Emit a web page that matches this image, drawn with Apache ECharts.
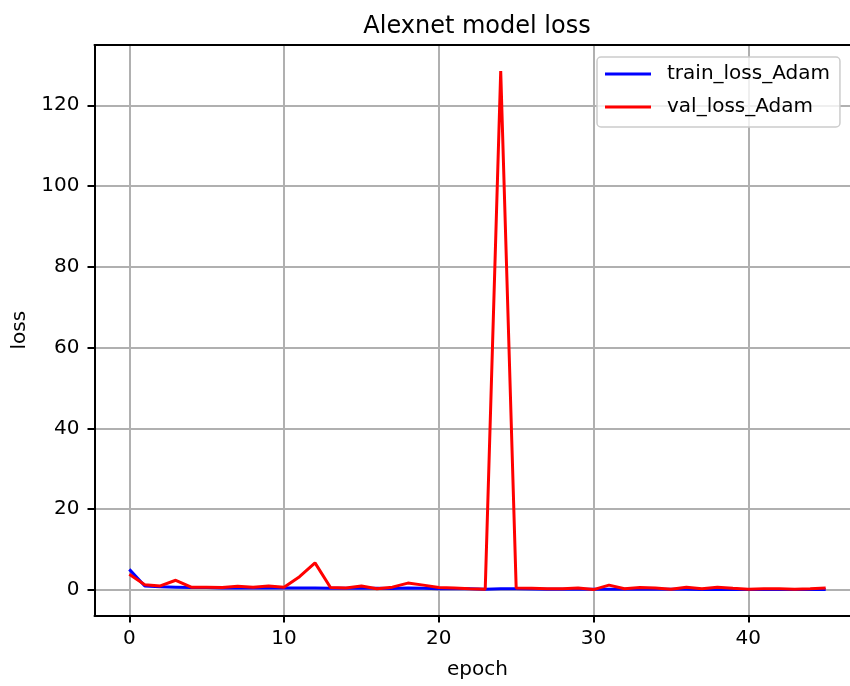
<!DOCTYPE html>
<html><head><meta charset="utf-8">
<script src="https://cdn.jsdelivr.net/npm/echarts@6/dist/echarts.min.js"></script>
<style>html,body{margin:0;padding:0;overflow:hidden;background:#fff;width:850px;height:686px}#c{width:862px;height:686px}</style>
</head><body><div id="c"></div>
<script>
const epochs = Array.from({length: 46}, (_, i) => i);
const trainLoss = [5.1,1.0,0.8,0.7,0.6,0.6,0.5,0.5,0.5,0.5,0.5,0.5,0.5,0.45,0.4,0.4,0.4,0.35,0.5,0.4,0.3,0.3,0.3,0.2,0.3,0.3,0.25,0.2,0.2,0.2,0.15,0.2,0.15,0.2,0.15,0.15,0.15,0.1,0.15,0.1,0.1,0.1,0.1,0.1,0.1,0.1];
const valLoss = [3.9,1.3,1.0,2.4,0.7,0.7,0.6,0.9,0.7,1.0,0.7,3.3,6.7,0.6,0.5,1.0,0.3,0.7,1.7,1.2,0.6,0.5,0.3,0.2,128.5,0.5,0.4,0.3,0.3,0.5,0.1,1.2,0.3,0.6,0.5,0.2,0.7,0.3,0.7,0.4,0.2,0.3,0.3,0.2,0.3,0.5];
const xTicks = [0,10,20,30,40];
const yTicks = [0,20,40,60,80,100,120];
const seriesNames = ['train_loss_Adam', 'val_loss_Adam'];

const font = 'DejaVu Sans';
const chart = echarts.init(document.getElementById('c'), null, {renderer: 'canvas'});
chart.setOption({
  animation: false,
  backgroundColor: '#fff',
  title: {text: 'Alexnet model loss', left: 472, top: 10, textAlign: 'center',
    textStyle: {fontFamily: font, fontSize: 24, fontWeight: 'normal', color: '#000'}},
  legend: {
    left: 597, top: 57, orient: 'vertical',
    data: seriesNames,
    icon: 'rect', itemWidth: 46, itemHeight: 3, itemGap: 9,
    textStyle: {fontFamily: font, fontSize: 20, lineHeight: 24, color: '#000', padding: [0,0,0,11]},
    borderColor: '#cccccc', borderWidth: 1.5, borderRadius: 4,
    padding: [5, 10, 8, 8], backgroundColor: 'rgba(255,255,255,0.8)'
  },
  grid: {left: 94.5, top: 45, width: 766, height: 570.5, containLabel: false},
  xAxis: [{
    type: 'value', min: -2.25, max: 47.25,
    name: 'epoch', nameLocation: 'middle', nameGap: 44,
    nameTextStyle: {fontFamily: font, fontSize: 20, color: '#000'},
    axisLine: {onZero: false, lineStyle: {color: '#000', width: 2}},
    axisTick: {show: true, customValues: xTicks, length: 7, lineStyle: {color: '#000', width: 2}},
    axisLabel: {customValues: xTicks, fontFamily: font, fontSize: 20, color: '#000', margin: 13},
    splitLine: {show: true, lineStyle: {color: '#b0b0b0', width: 2}}
  }, {
    type: 'value', min: -2.25, max: 47.25, position: 'top',
    axisLine: {show: true, onZero: false, lineStyle: {color: '#000', width: 2}},
    axisTick: {show: false}, axisLabel: {show: false}, splitLine: {show: false}
  }],
  yAxis: {
    type: 'value', min: -6.32, max: 134.92,
    name: 'loss', nameLocation: 'middle', nameGap: 65, nameRotate: 90,
    nameTextStyle: {fontFamily: font, fontSize: 20, color: '#000'},
    axisLine: {show: true, onZero: false, lineStyle: {color: '#000', width: 2}},
    axisTick: {show: true, customValues: yTicks, length: 7, lineStyle: {color: '#000', width: 2}},
    axisLabel: {customValues: yTicks, fontFamily: font, fontSize: 20, color: '#000', margin: 15},
    splitLine: {show: true, lineStyle: {color: '#b0b0b0', width: 2}}
  },
  series: [
    {name: seriesNames[0], type: 'line', data: epochs.map((e,i)=>[e, trainLoss[i]]),
     showSymbol: false, symbol: 'none', lineStyle: {color: '#0000ff', width: 3}, itemStyle: {color: '#0000ff'}, z: 2},
    {name: seriesNames[1], type: 'line', data: epochs.map((e,i)=>[e, valLoss[i]]),
     showSymbol: false, symbol: 'none', lineStyle: {color: '#ff0000', width: 3}, itemStyle: {color: '#ff0000'}, z: 3}
  ]
});
</script></body></html>
